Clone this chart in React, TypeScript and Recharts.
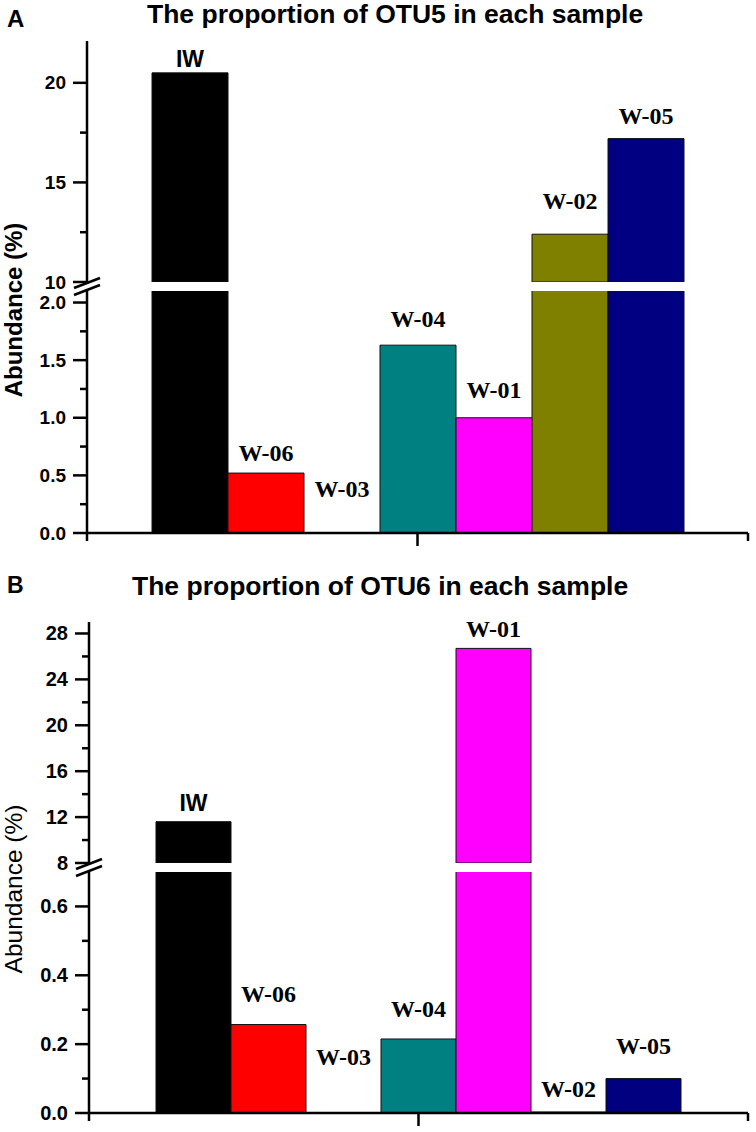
import React from "react";
import { BarChart, Bar, XAxis, YAxis, LabelList } from "recharts";

// Samples, in the order they stand in each group
const samples = ["IW", "W-06", "W-03", "W-04", "W-01", "W-02", "W-05"];
const sampleColors = ["#000000", "#ff0000", "#ffffff", "#008080", "#ff00ff", "#808000", "#000080"];

// Abundance (%)
const otu5 = [20.5, 0.52, 0, 1.63, 1.0, 12.4, 17.2];
const otu6 = [11.6, 0.257, 0, 0.215, 26.7, 0, 0.1];

// Tick values (major + minor) for the two parts of each broken axis
const otu5LowTicks = [0, 0.25, 0.5, 0.75, 1, 1.25, 1.5, 1.75, 2];
const otu5HighTicks = [10, 12.5, 15, 17.5, 20];
const otu6LowTicks = [0, 0.1, 0.2, 0.3, 0.4, 0.5, 0.6];
const otu6HighTicks = [8, 10, 12, 14, 16, 18, 20, 22, 24, 26, 28];

// how far (px) each name sits above its bar
const otu5LabelGap = [6, 12, 35, 18, 20, 25, 15];
const otu6LabelGap = [11, 23, 47, 22, 11, 15, 25];

const SANS = "Arial, 'Liberation Sans', Helvetica, sans-serif";
const SERIF = "'Times New Roman', 'Liberation Serif', serif";
const Y_AXIS_W = 80;
const PAGE_W = 756;
const HI_PAD = 30; // room above the upper part for the bar names

interface PanelLayout {
  axisX: number;
  right: number;
  hiTop: number;
  hiBottom: number;
  loTop: number;
  loBottom: number;
  hiDomain: [number, number];
  loDomain: [number, number];
  hiTicks: number[];
  loTicks: number[];
  hiMajor: number;
  loMajor: number;
  tickFont: number;
  groupGap: number;
}

const isMajor = (v: number, step: number) => Math.abs(v / step - Math.round(v / step)) < 1e-6;

const renderTick = (props: any, major: number, digits: number, fontSize: number) => {
  const { x, y, payload } = props;
  const big = isMajor(payload.value, major);
  return (
    <g>
      <line x1={x - (big ? 14 : 7)} x2={x} y1={y} y2={y} stroke="#000" strokeWidth={2.5} />
      {big && (
        <text
          x={x - 21}
          y={y}
          textAnchor="end"
          dominantBaseline="central"
          fontFamily={SANS}
          fontWeight="bold"
          fontSize={fontSize}
          fill="#000"
        >
          {payload.value.toFixed(digits)}
        </text>
      )}
    </g>
  );
};

const renderCenterTick = (props: any) => {
  const { x, y } = props;
  return <line x1={x} x2={x} y1={y} y2={y + 13} stroke="#000" strokeWidth={2.5} />;
};

const makeLabel =
  (i: number, gap: number, show: (v: number) => boolean) => (props: any) => {
    const { x, y, width, value } = props;
    if (value == null || !show(Number(value))) return null;
    const name = samples[i];
    return (
      <text
        x={Number(x) + Number(width) / 2}
        y={Number(y) - gap}
        textAnchor="middle"
        fontFamily={name === "IW" ? SANS : SERIF}
        fontWeight="bold"
        fontSize={name === "IW" ? 23 : 24}
        fill="#000"
      >
        {name}
      </text>
    );
  };

const BrokenPanel: React.FC<{ values: number[]; gaps: number[]; lay: PanelLayout }> = ({
  values,
  gaps,
  lay,
}) => {
  const hiRow: Record<string, any> = { g: "all" };
  const loRow: Record<string, any> = { g: "all" };
  samples.forEach((s, i) => {
    hiRow[s] = values[i] >= lay.hiDomain[0] ? values[i] : null;
    loRow[s] = values[i];
  });

  const mLeft = lay.axisX - Y_AXIS_W;
  const mRight = PAGE_W - lay.right;
  const hiH = lay.hiBottom - lay.hiTop;
  const loH = lay.loBottom - lay.loTop;

  return (
    <>
      <div style={{ position: "absolute", left: 0, top: lay.hiTop - HI_PAD }}>
        <BarChart
          width={PAGE_W}
          height={hiH + HI_PAD + 10}
          data={[hiRow]}
          margin={{ top: HI_PAD, right: mRight, bottom: 10, left: mLeft }}
          barCategoryGap={lay.groupGap}
          barGap={0}
        >
          <XAxis dataKey="g" hide />
          <YAxis
            type="number"
            domain={lay.hiDomain}
            allowDataOverflow
            ticks={lay.hiTicks}
            interval={0}
            width={Y_AXIS_W}
            tickLine={false}
            tickSize={0}
            tickMargin={0}
            axisLine={{ stroke: "#000", strokeWidth: 2.5 }}
            tick={(p: any) => renderTick(p, lay.hiMajor, 0, lay.tickFont)}
          />
          {samples.map((s, i) => (
            <Bar
              key={s}
              dataKey={s}
              fill={sampleColors[i]}
              stroke="#111"
              strokeWidth={1}
              isAnimationActive={false}
            >
              <LabelList
                dataKey={s}
                content={makeLabel(i, gaps[i], (v) => v >= lay.hiDomain[0])}
              />
            </Bar>
          ))}
        </BarChart>
      </div>
      <div style={{ position: "absolute", left: 0, top: lay.loTop - 4 }}>
        <BarChart
          width={PAGE_W}
          height={loH + 24}
          data={[loRow]}
          margin={{ top: 4, right: mRight, bottom: 0, left: mLeft }}
          barCategoryGap={lay.groupGap}
          barGap={0}
        >
          <XAxis
            dataKey="g"
            height={20}
            tickLine={false}
            tickSize={0}
            tickMargin={0}
            axisLine={{ stroke: "#000", strokeWidth: 2.5 }}
            tick={renderCenterTick}
          />
          <YAxis
            type="number"
            domain={lay.loDomain}
            allowDataOverflow
            ticks={lay.loTicks}
            interval={0}
            width={Y_AXIS_W}
            tickLine={false}
            tickSize={0}
            tickMargin={0}
            axisLine={{ stroke: "#000", strokeWidth: 2.5 }}
            tick={(p: any) => renderTick(p, lay.loMajor, 1, lay.tickFont)}
          />
          {samples.map((s, i) => (
            <Bar
              key={s}
              dataKey={s}
              fill={sampleColors[i]}
              stroke={sampleColors[i] === "#ffffff" ? "none" : "#111"}
              strokeWidth={1}
              minPointSize={1}
              isAnimationActive={false}
            >
              <LabelList
                dataKey={s}
                content={makeLabel(i, gaps[i], (v) => v <= lay.loDomain[1])}
              />
            </Bar>
          ))}
        </BarChart>
      </div>
    </>
  );
};

const layoutA: PanelLayout = {
  axisX: 87,
  right: 748,
  hiTop: 41,
  hiBottom: 282,
  loTop: 291,
  loBottom: 533,
  hiDomain: [10, 22.1],
  loDomain: [0, 2.1],
  hiTicks: otu5HighTicks,
  loTicks: otu5LowTicks,
  hiMajor: 5,
  loMajor: 0.5,
  tickFont: 19,
  groupGap: 65,
};

const layoutB: PanelLayout = {
  axisX: 89,
  right: 748,
  hiTop: 622,
  hiBottom: 863,
  loTop: 872,
  loBottom: 1113,
  hiDomain: [8, 29],
  loDomain: [0, 0.7],
  hiTicks: otu6HighTicks,
  loTicks: otu6LowTicks,
  hiMajor: 4,
  loMajor: 0.2,
  tickFont: 20,
  groupGap: 67,
};

// the "//" mark where the y axis is cut, plus the small end ticks of the x axis
const AxisDecor: React.FC<{ lay: PanelLayout }> = ({ lay }) => {
  const cx = lay.axisX;
  const cy = (lay.hiBottom + lay.loTop) / 2;
  const dx = 13;
  const dy = 5;
  const h = 3.5;
  return (
    <g>
      <line x1={cx} x2={cx} y1={lay.hiBottom} y2={lay.loTop} stroke="#000" strokeWidth={2.5} />
      <polygon
        points={`${cx - dx},${cy - h + dy} ${cx + dx},${cy - h - dy} ${cx + dx},${cy + h - dy} ${cx - dx},${cy + h + dy}`}
        fill="#fff"
      />
      <line x1={cx - dx} y1={cy - h + dy} x2={cx + dx} y2={cy - h - dy} stroke="#000" strokeWidth={2.5} />
      <line x1={cx - dx} y1={cy + h + dy} x2={cx + dx} y2={cy + h - dy} stroke="#000" strokeWidth={2.5} />
      <line x1={cx} x2={cx} y1={lay.loBottom} y2={lay.loBottom + 8} stroke="#000" strokeWidth={2.5} />
      <line x1={lay.right} x2={lay.right} y1={lay.loBottom} y2={lay.loBottom + 8} stroke="#000" strokeWidth={2.5} />
    </g>
  );
};

const App: React.FC = () => {
  return (
    <div
      style={{
        position: "absolute",
        left: 0,
        top: 0,
        width: 756,
        height: 1132,
        background: "#fff",
        overflow: "hidden",
      }}
    >
      <BrokenPanel values={otu5} gaps={otu5LabelGap} lay={layoutA} />
      <BrokenPanel values={otu6} gaps={otu6LabelGap} lay={layoutB} />

      <svg
        width={756}
        height={1132}
        style={{ position: "absolute", left: 0, top: 0, pointerEvents: "none" }}
      >
        <text x={7} y={27} fontFamily={SANS} fontWeight="bold" fontSize={24} fill="#000">
          A
        </text>
        <text x={147} y={23} fontFamily={SANS} fontWeight="bold" fontSize={26.5} fill="#000">
          The proportion of OTU5 in each sample
        </text>
        <text
          transform="translate(22,310) rotate(-90)"
          textAnchor="middle"
          fontFamily={SANS}
          fontWeight="bold"
          fontSize={24}
          fill="#000"
        >
          Abundance (%)
        </text>

        <text x={7} y={593} fontFamily={SANS} fontWeight="bold" fontSize={23} fill="#000">
          B
        </text>
        <text x={132} y={595} fontFamily={SANS} fontWeight="bold" fontSize={26.5} fill="#000">
          The proportion of OTU6 in each sample
        </text>
        <text
          transform="translate(22,889) rotate(-90)"
          textAnchor="middle"
          fontFamily={SANS}
          fontSize={24.5}
          fill="#000"
        >
          Abundance (%)
        </text>

        <AxisDecor lay={layoutA} />
        <AxisDecor lay={layoutB} />
      </svg>
    </div>
  );
};

export default App;
